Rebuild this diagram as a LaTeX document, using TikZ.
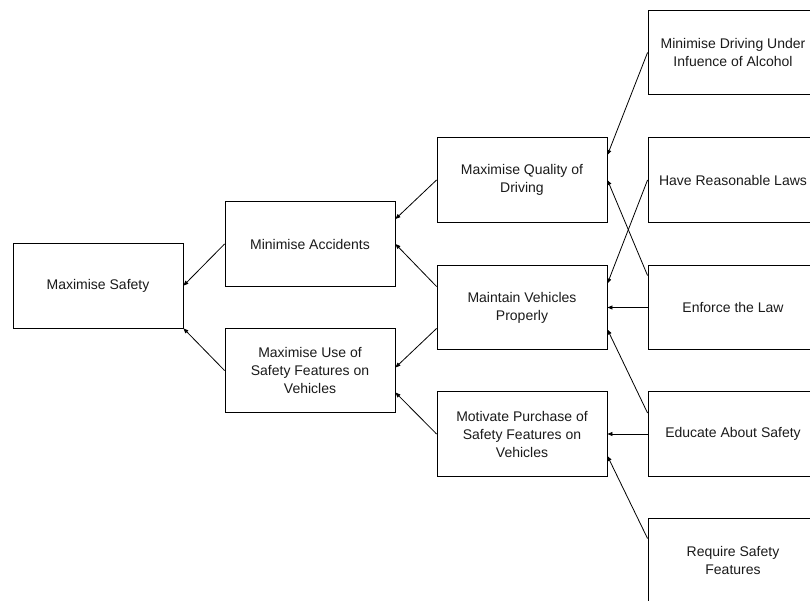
\documentclass[tikz,border=0pt]{standalone}
\usepackage{fontspec}
\setmainfont{Liberation Sans}
\usetikzlibrary{arrows.meta}
\definecolor{inktext}{HTML}{1A1A1A}
\begin{document}
\begin{tikzpicture}[x=1pt,y=-1pt,
  goalbox/.style={draw, line width=0.9pt, minimum width=170pt, minimum height=84.5pt,
    inner sep=0pt, align=center, text=inktext, font=\fontsize{14}{18}\selectfont},
  arr/.style={line width=0.8pt, -{Triangle[length=5pt,width=4pt]}}]
\useasboundingbox (0,0) rectangle (810,601);
\clip (0,0) rectangle (810,601);
% goals, from the top level on the left to the means on the right
\node[goalbox] (safety)  at (98,285.7)  {Maximise Safety};
\node[goalbox] (minacc)  at (310,244)   {Minimise Accidents};
\node[goalbox] (maxuse)  at (310,370.5) {Maximise Use of\\Safety Features on\\Vehicles};
\node[goalbox] (qual)    at (522,180)   {Maximise Quality of\\Driving};
\node[goalbox] (maint)   at (522,307.5) {Maintain Vehicles\\Properly};
\node[goalbox] (motiv)   at (522,434)   {Motivate Purchase of\\Safety Features on\\Vehicles};
\node[goalbox] (dui)     at (733,52.5)  {Minimise Driving Under\\Infuence of Alcohol};
\node[goalbox] (laws)    at (733,180)   {Have Reasonable Laws};
\node[goalbox] (enforce) at (733,307.5) {Enforce the Law};
\node[goalbox] (educate) at (733,434)   {Educate About Safety};
\node[goalbox] (require) at (733,560.5) {Require Safety\\Features};
% contributions point towards the goal they support
\draw[arr] (minacc.west) -- (safety.east);
\draw[arr] (maxuse.west) -- (safety.south east);
\draw[arr] (qual.west) -- ([yshift=25pt]minacc.east);
\draw[arr] ([yshift=21pt]maint.west) -- (minacc.east);
\draw[arr] ([yshift=-21pt]maint.west) -- ([yshift=3pt]maxuse.east);
\draw[arr] (motiv.west) -- ([yshift=-22pt]maxuse.east);
\draw[arr] (dui.west) -- ([yshift=25pt]qual.east);
\draw[arr] (laws.west) -- ([yshift=24pt]maint.east);
\draw[arr] ([yshift=32pt]enforce.west) -- (qual.east);
\draw[arr] (enforce.west) -- (maint.east);
\draw[arr] ([yshift=21pt]educate.west) -- ([yshift=-22pt]maint.east);
\draw[arr] (educate.west) -- (motiv.east);
\draw[arr] ([yshift=22pt]require.west) -- ([yshift=-22pt]motiv.east);
\end{tikzpicture}
\end{document}
